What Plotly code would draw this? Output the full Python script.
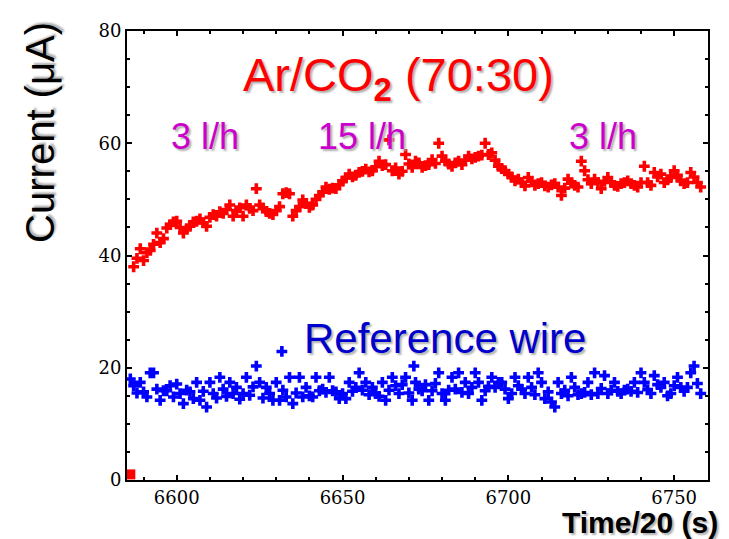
import plotly.graph_objects as go

# ---- data ----
red_x = list(range(6587, 6759))
red_y = [38.0, 39.5, 41.2, 39.1, 40.5, 40.9, 42.0, 44.0, 42.3, 43.0,
         44.9, 45.5, 46.0, 46.1, 45.0, 44.0, 44.8, 45.2, 46.0, 46.1,
         46.5, 45.8, 45.2, 46.8, 47.3, 47.0, 47.8, 47.5, 48.2, 49.0,
         47.0, 48.0, 48.5, 47.0, 49.0, 48.4, 48.0, 51.9, 49.0, 48.5,
         47.8, 47.5, 47.3, 48.0, 48.7, 51.0, 51.2, 51.0, 47.0, 48.0,
         48.7, 49.9, 49.3, 48.6, 49.0, 50.0, 50.7, 51.3, 52.2, 51.8,
         52.0, 51.9, 52.6, 53.3, 53.8, 54.5, 54.0, 54.3, 54.8, 55.0,
         55.4, 54.9, 55.1, 55.8, 56.8, 56.0, 56.2, 60.6, 55.1, 55.6,
         54.5, 55.0, 58.0, 56.3, 55.7, 56.8, 56.5, 55.7, 56.0, 56.2,
         57.1, 56.4, 60.0, 57.7, 56.8, 56.3, 55.9, 56.5, 56.8, 56.2,
         57.0, 57.7, 57.2, 57.5, 57.7, 57.9, 60.0, 58.0, 58.3, 57.0,
         55.9, 55.5, 55.1, 54.5, 54.0, 53.3, 53.6, 53.0, 52.4, 53.9,
         53.2, 52.5, 52.8, 53.0, 52.4, 52.2, 52.6, 52.8, 52.2, 50.7,
         52.0, 53.6, 52.9, 52.5, 52.2, 56.8, 55.1, 53.5, 52.8, 53.6,
         53.0, 51.9, 53.2, 53.9, 53.0, 52.5, 52.3, 52.8, 53.0, 53.3,
         52.8, 52.5, 52.2, 53.0, 55.9, 53.0, 52.5, 54.8, 54.0, 54.5,
         53.0, 53.5, 53.9, 55.1, 54.3, 53.3, 52.8, 53.0, 54.8, 54.0,
         53.0, 52.2]

blue_x = list(range(6586, 6759))
blue_y = [18.0, 16.8, 15.5, 17.4, 15.7, 14.8, 19.1, 19.1, 16.2, 14.2,
          15.9, 15.9, 16.8, 14.8, 17.1, 15.4, 13.6, 16.0, 15.7, 14.5,
          17.4, 14.2, 15.8, 13.0, 17.4, 15.4, 14.6, 18.3, 16.2, 14.9,
          17.4, 15.4, 16.5, 14.4, 15.4, 18.3, 15.1, 16.6, 20.3, 17.4,
          14.6, 16.5, 15.4, 14.2, 17.4, 14.2, 16.0, 14.8, 18.3, 13.6,
          15.5, 18.3, 14.8, 16.5, 15.0, 14.8, 18.3, 15.9, 16.2, 15.6,
          18.3, 15.9, 15.7, 14.5, 15.4, 14.5, 17.4, 15.8, 16.5, 19.1,
          16.0, 17.4, 15.2, 16.5, 15.4, 14.9, 17.4, 14.2, 16.0, 18.3,
          16.8, 15.4, 17.0, 18.3, 15.5, 14.2, 17.4, 16.2, 15.9, 17.0,
          14.2, 15.9, 17.2, 19.1, 15.4, 14.2, 16.0, 18.3, 16.2, 19.1,
          15.6, 17.4, 15.4, 16.5, 19.1, 17.4, 14.2, 15.9, 16.7, 18.3,
          16.5, 17.4, 17.4, 16.2, 14.5, 15.4, 18.3, 16.8, 16.2, 15.4,
          18.3, 16.5, 15.2, 19.1, 17.4, 14.5, 15.7, 13.9, 13.0, 17.4,
          15.4, 16.0, 15.0, 18.3, 16.5, 15.2, 15.4, 15.6, 17.4, 15.2,
          19.1, 15.4, 16.3, 18.6, 15.4, 16.0, 17.4, 15.8, 15.4, 16.0,
          16.2, 15.8, 17.4, 15.6, 19.1, 17.4, 16.1, 15.4, 18.6, 17.0,
          16.5, 17.4, 15.0, 15.4, 16.8, 18.3, 16.5, 15.8, 16.5, 19.1,
          20.3, 17.2, 15.4]
blue_extra_x = [6631.7, 6671.5]
blue_extra_y = [22.9, 20.3]

marker_x = [6586]
marker_y = [1]

x_ticks = [6600, 6650, 6700, 6750]
y_ticks = [0, 20, 40, 60, 80]

fig = go.Figure()
fig.add_trace(go.Scatter(x=red_x, y=red_y, mode="markers",
                         marker=dict(symbol="cross", size=9, color="#ff0000"),
                         showlegend=False))
fig.add_trace(go.Scatter(x=blue_x + blue_extra_x, y=blue_y + blue_extra_y, mode="markers",
                         marker=dict(symbol="cross", size=9, color="#0000ff"),
                         showlegend=False))
fig.add_trace(go.Scatter(x=marker_x, y=marker_y, mode="markers",
                         marker=dict(symbol="square", size=10, color="#ff0000"),
                         showlegend=False))

shadow = "2px 2px 2px #b0b0b0"
sans = "Liberation Sans, Arial"
anns = [
    dict(x=6667, y=71.6, xref="x", yref="y", text="Ar/CO<sub><b>2</b></sub> (70:30)",
         font=dict(family=sans, size=47, color="#ff0000", shadow=shadow)),
    dict(x=6608.5, y=61.2, xref="x", yref="y", text="3 l/h",
         font=dict(family=sans, size=36, color="#cc00cc", shadow=shadow)),
    dict(x=6656, y=61.2, xref="x", yref="y", text="15 l/h",
         font=dict(family=sans, size=36, color="#cc00cc", shadow=shadow)),
    dict(x=6728.5, y=61.2, xref="x", yref="y", text="3 l/h",
         font=dict(family=sans, size=36, color="#cc00cc", shadow=shadow)),
    dict(x=6681, y=25.3, xref="x", yref="y", text="Reference wire",
         font=dict(family=sans, size=42, color="#0000cc", shadow=shadow)),
    dict(x=1.021, y=-0.095, xref="paper", yref="paper", xanchor="right", yanchor="middle",
         text="<b>Time/20 (s)</b>",
         font=dict(family=sans, size=30, color="black", shadow=shadow)),
    dict(x=-0.15, y=0.775, xref="paper", yref="paper", xanchor="center", yanchor="middle",
         text="Current (μA)", textangle=-90,
         font=dict(family=sans, size=40, color="black", shadow=shadow)),
]
for a in anns:
    a["showarrow"] = False
    fig.add_annotation(**a)

axis_common = dict(showline=True, linecolor="black", linewidth=2, mirror="ticks",
                   ticks="inside", ticklen=5, tickwidth=1.5, tickcolor="black",
                   showgrid=False, zeroline=False,
                   tickfont=dict(family="DejaVu Serif", size=18, color="black"))

fig.update_xaxes(range=[6585, 6760.2], tickvals=x_ticks,
                 minor=dict(dtick=10, tick0=6600, ticks="inside", ticklen=3, tickcolor="black"),
                 **axis_common)
fig.update_yaxes(range=[0, 80], tickvals=y_ticks,
                 minor=dict(dtick=5, tick0=0, ticks="inside", ticklen=3, tickcolor="black"),
                 **axis_common)

# page body has an 8px margin; size/margins compensate so the plot area lands where the reference has it
fig.update_layout(width=721, height=531, margin=dict(l=119, r=21, t=12, b=59),
                  plot_bgcolor="white", paper_bgcolor="white")

fig.write_html("out.html")
